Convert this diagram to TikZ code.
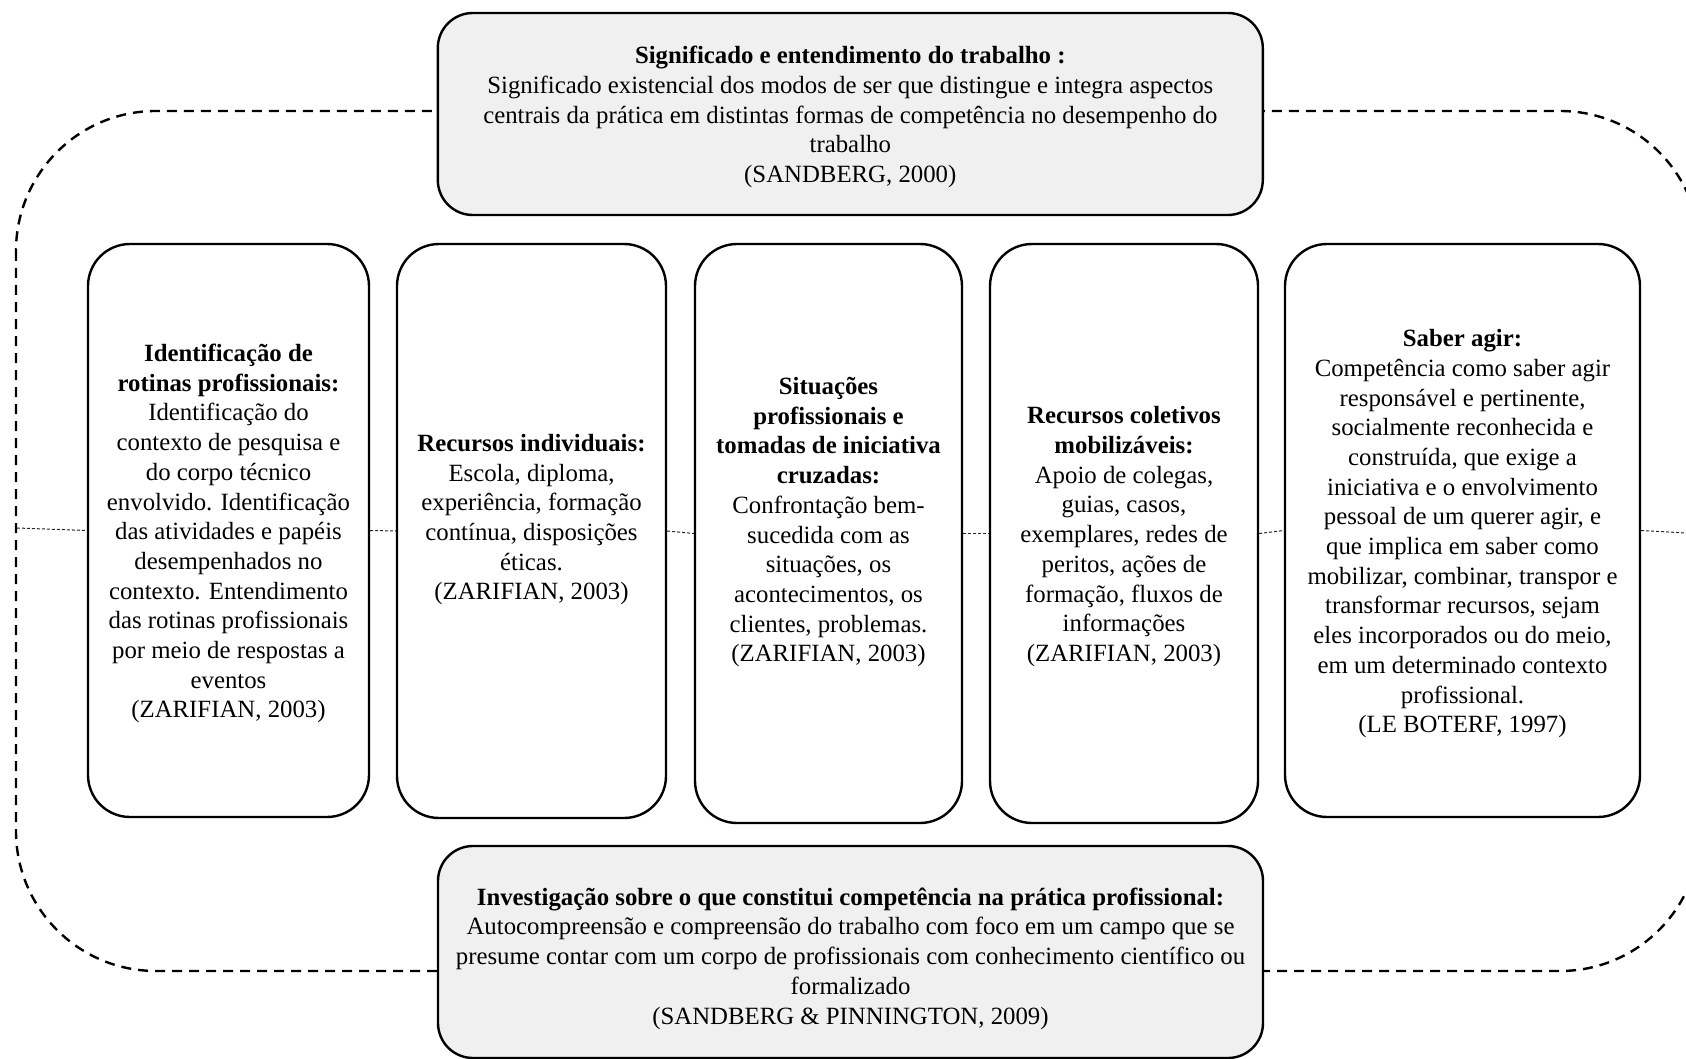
\documentclass[tikz,border=0pt]{standalone}
\usepackage{fontspec}
\setmainfont{Liberation Serif}
\begin{document}
\begin{tikzpicture}[x=1pt,y=-1pt,
  box/.style={draw, line width=2.4pt, inner sep=0pt},
  midbox/.style={box, fill=white, rounded corners=42pt},
  greybox/.style={box, fill=black!6, rounded corners=35pt},
  txt/.style={inner sep=0pt, align=center, font=\fontsize{24.8}{29.7}\selectfont},
  outerline/.style={line width=2.4pt, dash pattern=on 10pt off 7pt, rounded corners=140pt},
  dotline/.style={line width=1pt, dash pattern=on 3pt off 2pt, black!85}]
\useasboundingbox (0,0) rectangle (1686,1059);
\clip (0,0) rectangle (1686,1059);
\draw[outerline] (16,111) rectangle (1700,971);

\node[greybox, minimum width=825pt, minimum height=202pt] (top) at (850.3,114) {};
\node[txt, yshift=-3.2pt] (ttop) at (top.center)
 {\textbf{Significado e entendimento do trabalho :}\\
  Significado existencial dos modos de ser que distingue e integra aspectos\\
  centrais da prática em distintas formas de competência no desempenho do\\
  trabalho\\
  (SANDBERG, 2000)};

\node[greybox, minimum width=825pt, minimum height=212pt] (bottom) at (850.5,952) {};
\node[txt, yshift=-6.5pt] (tbottom) at (bottom.center)
 {\textbf{Investigação sobre o que constitui competência na prática profissional:}\\
  Autocompreensão e compreensão do trabalho com foco em um campo que se\\
  presume contar com um corpo de profissionais com conhecimento científico ou\\
  formalizado\\
  (SANDBERG \& PINNINGTON, 2009)};

\node[midbox, minimum width=281pt, minimum height=573pt] (b1) at (228.5,530.5) {};
\node[txt, yshift=-3.2pt] (t1) at (b1.center)
 {\textbf{Identificação de}\\
  \textbf{rotinas profissionais:}\\
  Identificação do\\
  contexto de pesquisa e\\
  do corpo técnico\\
  envolvido. Identificação\\
  das atividades e papéis\\
  desempenhados no\\
  contexto. Entendimento\\
  das rotinas profissionais\\
  por meio de respostas a\\
  eventos\\
  (ZARIFIAN, 2003)};

\node[midbox, minimum width=269pt, minimum height=574pt] (b2) at (531.5,531) {};
\node[txt, yshift=-5.4pt] (t2) at (b2.center)
 {\textbf{Recursos individuais:}\\
  Escola, diploma,\\
  experiência, formação\\
  contínua, disposições\\
  éticas.\\
  (ZARIFIAN, 2003)\\
  \strut};

\node[midbox, minimum width=267pt, minimum height=579pt] (b3) at (828.5,533.5) {};
\node[txt, yshift=-5.4pt] (t3) at (b3.center)
 {\textbf{Situações}\\
  \textbf{profissionais e}\\
  \textbf{tomadas de iniciativa}\\
  \textbf{cruzadas:}\\
  Confrontação bem-\\
  sucedida com as\\
  situações, os\\
  acontecimentos, os\\
  clientes, problemas.\\
  (ZARIFIAN, 2003)\\
  \strut};

\node[midbox, minimum width=268pt, minimum height=579pt] (b4) at (1124,533.5) {};
\node[txt, yshift=-3.2pt] (t4) at (b4.center)
 {\textbf{Recursos coletivos}\\
  \textbf{mobilizáveis:}\\
  Apoio de colegas,\\
  guias, casos,\\
  exemplares, redes de\\
  peritos, ações de\\
  formação, fluxos de\\
  informações\\
  (ZARIFIAN, 2003)};

\node[midbox, minimum width=355pt, minimum height=573pt] (b5) at (1462.5,530.5) {};
\node[txt, yshift=-3.2pt] (t5) at (b5.center)
 {\textbf{Saber agir:}\\
  Competência como saber agir\\
  responsável e pertinente,\\
  socialmente reconhecida e\\
  construída, que exige a\\
  iniciativa e o envolvimento\\
  pessoal de um querer agir, e\\
  que implica em saber como\\
  mobilizar, combinar, transpor e\\
  transformar recursos, sejam\\
  eles incorporados ou do meio,\\
  em um determinado contexto\\
  profissional.\\
  (LE BOTERF, 1997)};

\coordinate (dl) at (17,528);
\coordinate (dr) at (1686,533);
\draw[dotline] (dl) -- (b1.west);
\draw[dotline] (b1.east) -- (b2.west);
\draw[dotline] (b2.east) -- (b3.west);
\draw[dotline] (b3.east) -- (b4.west);
\draw[dotline] (b4.east) -- (b5.west);
\draw[dotline] (b5.east) -- (dr);
\end{tikzpicture}
\end{document}
